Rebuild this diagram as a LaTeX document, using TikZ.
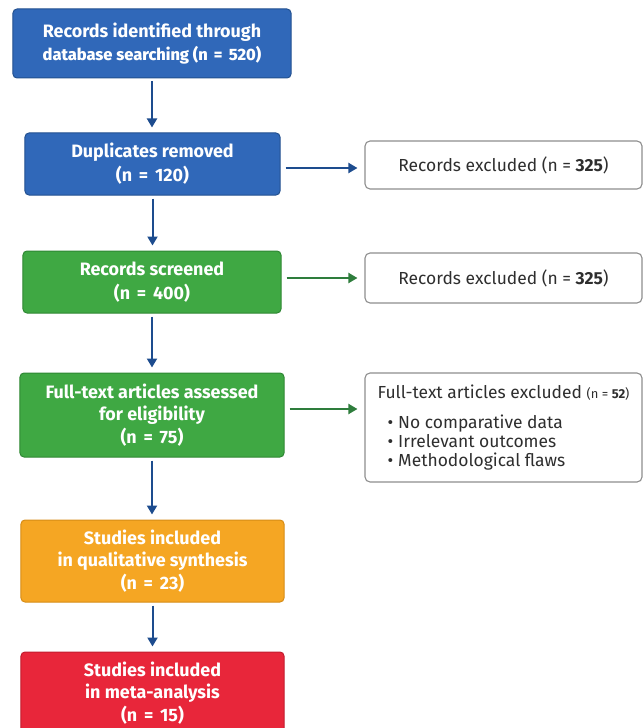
\documentclass[tikz,border=0pt]{standalone}
\usepackage{fontspec}
\setmainfont{Fira Sans}
\newfontfamily\medfont{Fira Sans Medium}
\usetikzlibrary{arrows.meta}
\definecolor{cblue}{HTML}{3068B9}
\definecolor{cblueD}{HTML}{22508F}
\definecolor{cgreen}{HTML}{3FA843}
\definecolor{cgreenD}{HTML}{2E8733}
\definecolor{corange}{HTML}{F5A623}
\definecolor{corangeD}{HTML}{D68C16}
\definecolor{cred}{HTML}{E8263A}
\definecolor{credD}{HTML}{C21C2E}
\definecolor{carrB}{HTML}{1D4C8E}
\definecolor{carrG}{HTML}{2E7D3C}
\definecolor{cgray}{HTML}{8E8E8E}
\definecolor{ctext}{HTML}{2E2E2E}
\newcommand\nnum[1]{(n\kern0.38em=\kern0.38em#1)}
\begin{document}
\begin{tikzpicture}[x=1bp,y=-1bp,
  box/.style={draw, rounded corners=4bp, line width=1bp, text=white, align=center,
    font=\bfseries\fontsize{18}{22.5}\selectfont, inner sep=0pt},
  bluebox/.style={box, fill=cblue, draw=cblueD},
  greenbox/.style={box, fill=cgreen, draw=cgreenD},
  orangebox/.style={box, fill=corange, draw=corangeD},
  redbox/.style={box, fill=cred, draw=credD},
  xbox/.style={draw=cgray, fill=white, rounded corners=5bp, line width=1.1bp, text=ctext,
    font=\fontsize{17.5}{19}\selectfont, inner sep=0pt, minimum width=277bp},
  arr/.style={line width=2bp, -{Triangle[length=9bp,width=10bp]}},
  varr/.style={arr, draw=carrB, shorten <=3bp, shorten >=5bp},
]
\useasboundingbox (0,0) rectangle (644,728);

\node[bluebox, minimum width=278bp, minimum height=69bp] (b1) at (152,43.5)
  {Records identified through\\{\medfont\fontsize{16.5}{22.5}\selectfont database searching \nnum{\textbf{520}}}};
\node[bluebox, minimum width=255bp, minimum height=62bp] (b2) at (152.5,164)
  {Duplicates removed\\[1.5bp]\nnum{120}};
\node[greenbox, minimum width=258bp, minimum height=62bp] (b3) at (152,282)
  {Records screened\\[1.5bp]\nnum{400}};
\node[greenbox, minimum width=264bp, minimum height=84bp] (b4) at (152,415)
  {Full-text articles assessed\\for eligibility\\\nnum{75}};
\node[orangebox, minimum width=263bp, minimum height=82bp] (b5) at (152.5,561)
  {Studies included\\in qualitative synthesis\\\nnum{23}};
\node[redbox, minimum width=263bp, minimum height=82bp] (b6) at (152.5,693)
  {Studies included\\in meta-analysis\\\nnum{15}};

\node[xbox, minimum height=48bp] (r1) at (503.5,165) {Records excluded (n = \textbf{325})};
\node[xbox, minimum height=50bp] (r2) at (503.5,278) {Records excluded (n = \textbf{325})};
\node[xbox, minimum height=109bp] (r3) at (503.5,427.5) {};
\node[align=left, text=ctext, inner sep=0pt, font=\fontsize{17.5}{19}\selectfont] (r3t) at (r3.center)
  {Full-text articles excluded {\fontsize{13}{19}\selectfont(n = \textbf{52})}\\[11bp]
   \hspace{10bp}\textbullet\hspace{5bp}No comparative data\\
   \hspace{10bp}\textbullet\hspace{5bp}Irrelevant outcomes\\
   \hspace{10bp}\textbullet\hspace{5bp}Methodological flaws};

\draw[varr] (b1.south) -- (b1.south |- b2.north);
\draw[varr] (b2.south) -- (b2.south |- b3.north);
\draw[varr] (b3.south) -- (b3.south |- b4.north);
\draw[varr] (b4.south) -- (b4.south |- b5.north);
\draw[varr] (b5.south) -- (b5.south |- b6.north);

\coordinate (s2) at ([yshift=-4bp]b2.east);
\coordinate (s3) at ([yshift=4bp]b3.east);
\coordinate (s4) at ([yshift=6bp]b4.east);
\draw[arr, draw=carrB, shorten <=5bp, shorten >=7bp] (s2) -- (s2 -| r1.west);
\draw[arr, draw=carrG, shorten <=5bp, shorten >=7bp] (s3) -- (s3 -| r2.west);
\draw[arr, draw=carrG, shorten <=5bp, shorten >=7bp] (s4) -- (s4 -| r3.west);
\end{tikzpicture}
\end{document}
